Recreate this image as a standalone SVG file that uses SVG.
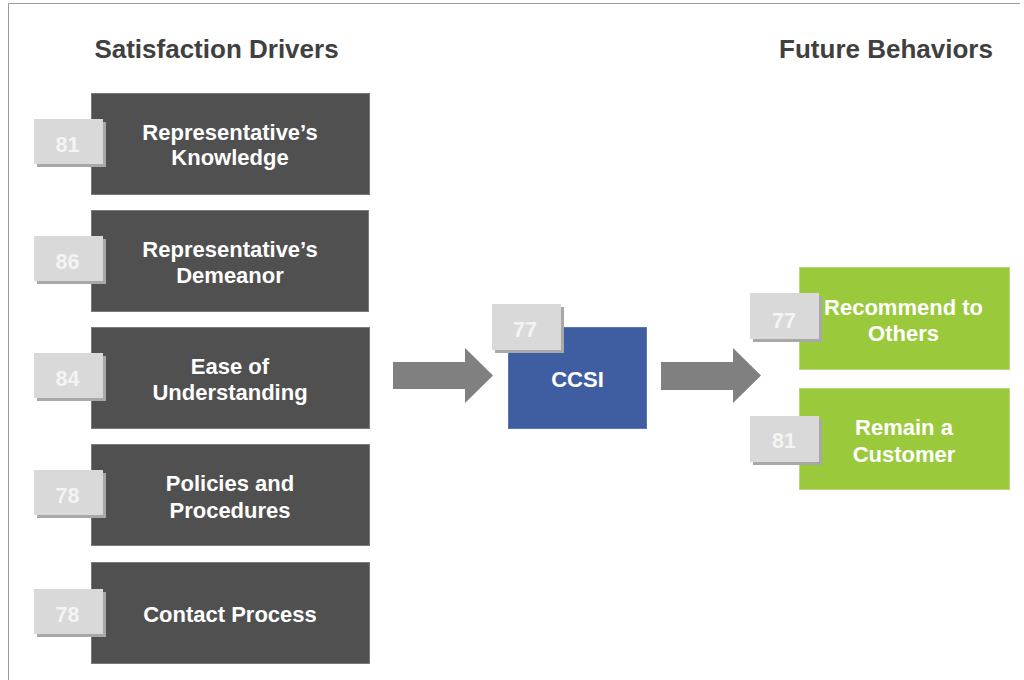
<svg xmlns="http://www.w3.org/2000/svg" width="1024" height="680" viewBox="0 0 1024 680">
  <defs>
    <style>
      .title { font-family: "Liberation Sans", Arial, sans-serif; font-weight: bold; font-size: 26px; fill: #404040; text-anchor: middle; }
      .label { font-family: "Liberation Sans", Arial, sans-serif; font-weight: bold; font-size: 22px; fill: #ffffff; text-anchor: middle; }
      .score { font-family: "Liberation Sans", Arial, sans-serif; font-weight: bold; font-size: 21.5px; fill: #f4f4f4; text-anchor: middle; }
      .driver { fill: #505050; stroke: #7a7a7a; stroke-width: 1; }
      .core { fill: #3f5ea1; stroke: #5a76b0; stroke-width: 1; }
      .outcome { fill: #9aca3c; stroke: #b6d978; stroke-width: 1; }
      .badge { fill: #d9d9d9; }
      .badge-shadow { fill: #a8a8a8; }
      .flow { fill: #808080; }
    </style>
  </defs>

  <rect width="1024" height="680" fill="#ffffff"/>
  <!-- page frame -->
  <path d="M8.5,680 V3.5 H1020" fill="none" stroke="#9a9a9a" stroke-width="1"/>

  <text class="title" x="216.5" y="58">Satisfaction Drivers</text>
  <text class="title" x="886" y="58">Future Behaviors</text>

  <!-- connectors -->
  <g id="connectors">
    <polygon class="flow" points="393,362 465,362 465,348 493,375.5 465,403 465,389 393,389"/>
    <polygon class="flow" points="661,362 733,362 733,348 761,375.5 733,403 733,390 661,390"/>
  </g>

  <g id="driver-knowledge">
    <rect class="driver" x="91.5" y="93.5" width="278" height="101"/>
    <rect class="badge-shadow" x="37" y="122" width="69" height="45"/>
    <rect class="badge" x="34" y="119" width="69" height="45"/>
    <text class="score" x="67.5" y="152">81</text>
    <text class="label" x="230" y="140">Representative’s</text>
    <text class="label" x="230" y="165">Knowledge</text>
  </g>

  <g id="driver-demeanor">
    <rect class="driver" x="91.5" y="210.5" width="277" height="101"/>
    <rect class="badge-shadow" x="37" y="239" width="69" height="45"/>
    <rect class="badge" x="34" y="236" width="69" height="45"/>
    <text class="score" x="67.5" y="269">86</text>
    <text class="label" x="230" y="257">Representative’s</text>
    <text class="label" x="230" y="283">Demeanor</text>
  </g>

  <g id="driver-understanding">
    <rect class="driver" x="91.5" y="327.5" width="278" height="101"/>
    <rect class="badge-shadow" x="37" y="356" width="69" height="45"/>
    <rect class="badge" x="34" y="353" width="69" height="45"/>
    <text class="score" x="67.5" y="386">84</text>
    <text class="label" x="230" y="374">Ease of</text>
    <text class="label" x="230" y="400">Understanding</text>
  </g>

  <g id="driver-policies">
    <rect class="driver" x="91.5" y="444.5" width="278" height="101"/>
    <rect class="badge-shadow" x="37" y="473" width="69" height="45"/>
    <rect class="badge" x="34" y="470" width="69" height="45"/>
    <text class="score" x="67.5" y="503">78</text>
    <text class="label" x="230" y="491">Policies and</text>
    <text class="label" x="230" y="518">Procedures</text>
  </g>

  <g id="driver-contact">
    <rect class="driver" x="91.5" y="562.5" width="278" height="101"/>
    <rect class="badge-shadow" x="37" y="592" width="69" height="45"/>
    <rect class="badge" x="34" y="589" width="69" height="45"/>
    <text class="score" x="67.5" y="622">78</text>
    <text class="label" x="230" y="622">Contact Process</text>
  </g>

  <g id="ccsi">
    <rect class="core" x="508.5" y="327.5" width="138" height="101"/>
    <rect class="badge-shadow" x="495" y="307" width="69" height="46"/>
    <rect class="badge" x="492" y="304" width="69" height="46"/>
    <text class="score" x="525" y="337">77</text>
    <text class="label" x="577.5" y="387">CCSI</text>
  </g>

  <g id="behavior-recommend">
    <rect class="outcome" x="799.5" y="267.5" width="210" height="102"/>
    <rect class="badge-shadow" x="753" y="296" width="69" height="46"/>
    <rect class="badge" x="750" y="293" width="69" height="46"/>
    <text class="score" x="784" y="328">77</text>
    <text class="label" x="903.5" y="315">Recommend to</text>
    <text class="label" x="903.5" y="341">Others</text>
  </g>

  <g id="behavior-remain">
    <rect class="outcome" x="799.5" y="388.5" width="210" height="101"/>
    <rect class="badge-shadow" x="753" y="419" width="69" height="46"/>
    <rect class="badge" x="750" y="416" width="69" height="46"/>
    <text class="score" x="784" y="448">81</text>
    <text class="label" x="904" y="435">Remain a</text>
    <text class="label" x="904" y="462">Customer</text>
  </g>
</svg>
